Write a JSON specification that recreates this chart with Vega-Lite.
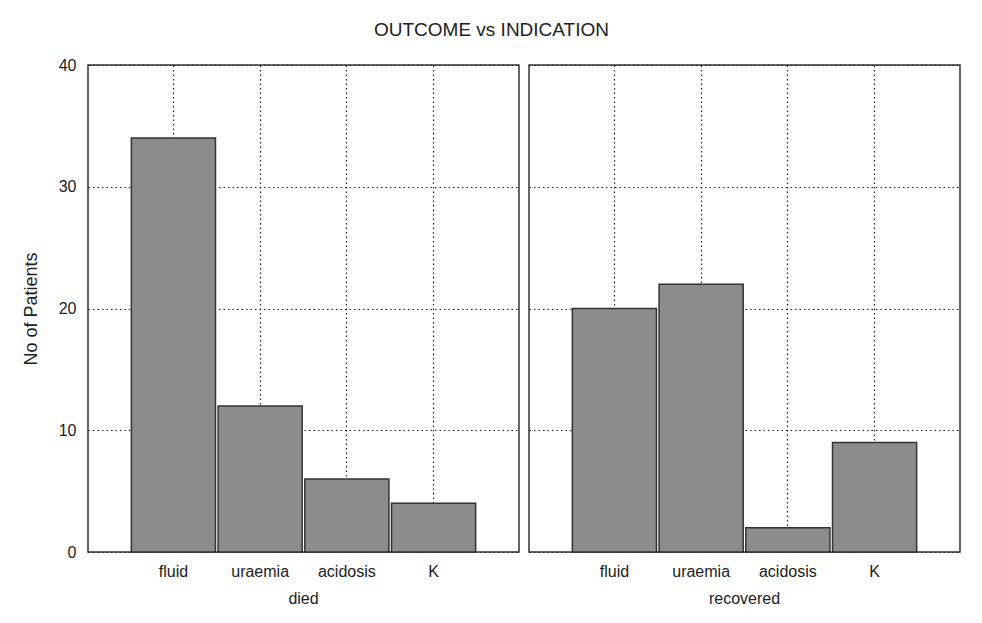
{
  "$schema": "https://vega.github.io/schema/vega-lite/v6.json",
  "padding": {"left": 22, "top": 21, "right": 10, "bottom": 5},
  "background": "white",
  "title": {"text": "OUTCOME vs INDICATION", "fontSize": 19, "font": "Liberation Sans", "fontWeight": "normal", "color": "#222", "offset": 17, "anchor": "middle"},
  "config": {
    "font": "Liberation Sans",
    "view": {"stroke": "#333", "strokeWidth": 1.5},
    "axis": {"domain": false, "ticks": false, "grid": true, "gridColor": "#222", "gridDash": [1.5, 3], "gridWidth": 1.2, "gridOpacity": 1, "labelFont": "Liberation Sans", "labelFontSize": 16, "labelColor": "#222", "titleFont": "Liberation Sans", "titleFontSize": 18, "titleFontWeight": "normal", "titleColor": "#222"}
  },
  "data": {"values": [
    {"outcome": "died", "indication": "fluid", "patients": 34},
    {"outcome": "died", "indication": "uraemia", "patients": 12},
    {"outcome": "died", "indication": "acidosis", "patients": 6},
    {"outcome": "died", "indication": "K", "patients": 4},
    {"outcome": "recovered", "indication": "fluid", "patients": 20},
    {"outcome": "recovered", "indication": "uraemia", "patients": 22},
    {"outcome": "recovered", "indication": "acidosis", "patients": 2},
    {"outcome": "recovered", "indication": "K", "patients": 9}
  ]},
  "facet": {"column": {"field": "outcome", "type": "nominal", "header": {"title": null, "labelOrient": "bottom", "labelFont": "Liberation Sans", "labelFontSize": 16, "labelColor": "#222", "labelPadding": 11}}},
  "spacing": 8,
  "resolve": {"axis": {"x": "independent"}},
  "spec": {
    "width": 431,
    "height": 487,
    "mark": {"type": "bar", "fill": "#8c8c8c", "stroke": "#333", "strokeWidth": 1.5},
    "encoding": {
      "x": {"field": "indication", "type": "nominal", "sort": ["fluid", "uraemia", "acidosis", "K"],
        "scale": {"paddingInner": 0.03, "paddingOuter": 0.5},
        "axis": {"title": null, "labelAngle": 0, "bandPosition": 0.5, "labelPadding": 11}},
      "y": {"field": "patients", "type": "quantitative", "scale": {"domain": [0, 40], "nice": false},
        "axis": {"title": "No of Patients", "values": [0, 10, 20, 30, 40], "labelPadding": 11, "titlePadding": 18}}
    }
  }
}
